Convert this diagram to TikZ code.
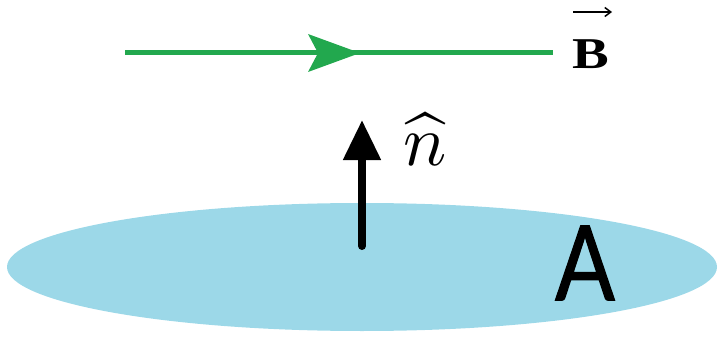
\documentclass[tikz,border=0pt]{standalone}
\usepackage{fontspec}
\setmainfont{Liberation Serif}
\newfontfamily\labelsans[FakeBold=1.2]{Lato}
\usetikzlibrary{arrows.meta,decorations.markings}
\definecolor{fieldgreen}{RGB}{34,168,78}
\definecolor{areablue}{RGB}{156,216,232}
\tikzset{
  field/.style={draw=fieldgreen, line width=5pt},
  normal/.style={draw=black, line width=8pt, line cap=round, -{Triangle[length=40pt,width=36pt]}},
  lbl/.style={inner sep=0pt, anchor=center},
}
\begin{document}
\begin{tikzpicture}[x=1pt,y=-1pt]
\useasboundingbox (0,0) rectangle (718,337);
% area
\fill[areablue] (362,267) ellipse [x radius=355, y radius=64];
% field line
\coordinate (bl) at (125,53);
\coordinate (br) at (553,53);
\draw[field] (bl) -- (br);
\coordinate (tipg) at (360,53);
\fill[fieldgreen] (tipg) -- (308,34) -- (318,53) -- (308,72) -- cycle;
\node[lbl, font=\bfseries\fontsize{44}{44}\selectfont] (B) at (591,54) {\scalebox{1.25}[1]{B}};
\coordinate (va) at (573,12);
\coordinate (vb) at (612,12);
\draw[line width=1.5pt, -{Straight Barb[length=6pt,width=9pt]}] (va) -- (vb);
% normal
\coordinate (n0) at (362,246);
\coordinate (n1) at (362,120);
\draw[normal] (n0) -- (n1);
\node[lbl] (nhat) at (425,139) {\scalebox{7.2}{$\widehat{n}$}};
\node[lbl, font=\labelsans\fontsize{104}{104}\selectfont] (A) at (585,263) {\scalebox{0.85}[1]{A}};
\end{tikzpicture}
\end{document}
